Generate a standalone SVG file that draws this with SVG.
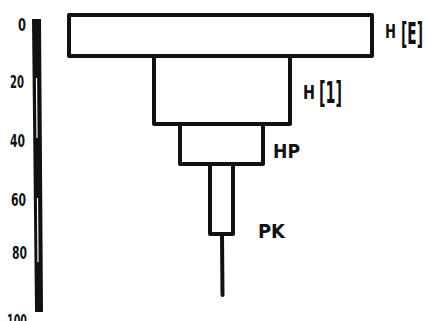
<svg xmlns="http://www.w3.org/2000/svg" width="427" height="321" viewBox="0 0 427 321">
<style>
.box{fill:#fff;stroke:#111;stroke-width:4;stroke-linejoin:round}
.lbl{font-family:"DejaVu Sans Condensed","DejaVu Sans",sans-serif;font-weight:bold;fill:#111}
.ax{font-family:"DejaVu Sans Condensed","DejaVu Sans",sans-serif;font-weight:bold;fill:#111;font-size:18px}
</style>
<rect width="427" height="321" fill="#fff"/>
<g id="scale">
<polygon points="32,19 41,19 43,312 35,312" fill="#111"/>
<line x1="36.5" y1="78" x2="37" y2="138" stroke="#fff" stroke-width="1.2"/>
<line x1="37.5" y1="198" x2="38" y2="262" stroke="#fff" stroke-width="1.2"/>
<text class="ax" x="18" y="31" textLength="8" lengthAdjust="spacingAndGlyphs">0</text>
<text class="ax" x="10" y="88" textLength="14" lengthAdjust="spacingAndGlyphs">20</text>
<text class="ax" x="10" y="147" textLength="15" lengthAdjust="spacingAndGlyphs">40</text>
<text class="ax" x="11" y="206" textLength="15" lengthAdjust="spacingAndGlyphs">60</text>
<text class="ax" x="12" y="259" textLength="15" lengthAdjust="spacingAndGlyphs">80</text>
<text class="ax" x="7" y="327" textLength="20" lengthAdjust="spacingAndGlyphs">100</text>
</g>
<g id="connectors">
<line x1="222" y1="234" x2="222.5" y2="295" stroke="#111" stroke-width="4" stroke-linecap="round"/>
</g>
<g id="node-HE">
<rect class="box" x="69" y="15" width="303" height="41"/>
<text class="lbl" x="385" y="38" font-size="19" textLength="11" lengthAdjust="spacingAndGlyphs">H</text>
<text class="lbl" x="401" y="44" font-size="30" textLength="22" lengthAdjust="spacingAndGlyphs">[E]</text>
</g>
<g id="node-H1">
<rect class="box" x="154" y="56" width="136" height="68"/>
<text class="lbl" x="303" y="99" font-size="19" textLength="12" lengthAdjust="spacingAndGlyphs">H</text>
<text class="lbl" x="319" y="103" font-size="30" textLength="23" lengthAdjust="spacingAndGlyphs">[1]</text>
</g>
<g id="node-HP">
<rect class="box" x="180" y="124" width="83" height="40"/>
<text class="lbl" x="273" y="158" font-size="19" textLength="27" lengthAdjust="spacingAndGlyphs">HP</text>
</g>
<g id="node-PK">
<rect class="box" x="210" y="164" width="23" height="70"/>
<text class="lbl" x="258" y="238" font-size="20" textLength="27" lengthAdjust="spacingAndGlyphs">PK</text>
</g>
</svg>
